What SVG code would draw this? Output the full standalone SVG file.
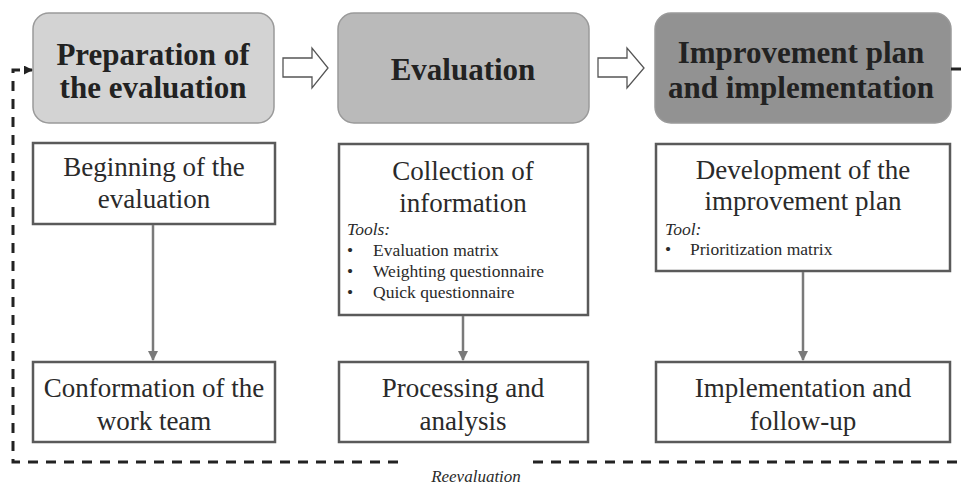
<svg xmlns="http://www.w3.org/2000/svg" width="964" height="488" viewBox="0 0 964 488">
<defs>
<marker id="ah" viewBox="0 0 10 10" refX="9" refY="5" markerWidth="4" markerHeight="4" orient="auto" markerUnits="strokeWidth">
<path d="M0,0 L10,5 L0,10 z" fill="#7a7a7a"/>
</marker>
<marker id="dh" viewBox="0 0 10 10" refX="9" refY="5" markerWidth="3" markerHeight="3" orient="auto" markerUnits="strokeWidth">
<path d="M0,0 L10,5 L0,10 z" fill="#222"/>
</marker>
</defs>
<style>
.hdr{stroke:#9a9a9a;stroke-width:1.5}
.ht{font-family:"Liberation Serif",serif;font-weight:bold;font-size:31px;fill:#222;text-anchor:middle}
.box{fill:#fff;stroke:#5a5a5a;stroke-width:2.5}
.bt{font-family:"Liberation Serif",serif;font-size:27px;fill:#2a2a2a;text-anchor:middle}
.st{font-family:"Liberation Serif",serif;font-size:17.5px;fill:#2a2a2a}
.it{font-style:italic}
.con{stroke:#7a7a7a;stroke-width:2.5;fill:none}
.dash{stroke:#222;stroke-width:3;fill:none;stroke-dasharray:10,8}
.ha{fill:#fff;stroke:#555;stroke-width:1.3}
</style>
<rect width="964" height="488" fill="#fff"/>

<g id="prep">
<rect class="hdr" x="33" y="13" width="241" height="110" rx="16" fill="#d3d3d3"/>
<text class="ht" x="153" y="65">Preparation of</text>
<text class="ht" x="153" y="98">the evaluation</text>
</g>
<g id="eval">
<rect class="hdr" x="338" y="13" width="251" height="110" rx="16" fill="#bababa"/>
<text class="ht" x="463" y="80">Evaluation</text>
</g>
<g id="impl">
<rect class="hdr" x="655" y="13" width="296" height="110" rx="16" fill="#929292"/>
<text class="ht" x="801" y="63">Improvement plan</text>
<text class="ht" x="801" y="98">and implementation</text>
</g>

<g id="arrow1"><path class="ha" d="M283,58 H312 V48 L328,68 L312,88 V77 H283 Z"/></g>
<g id="arrow2"><path class="ha" d="M598,58 H627 V48 L644,68 L627,88 V77 H598 Z"/></g>

<g id="beginning">
<rect class="box" x="33" y="143" width="242" height="81"/>
<text class="bt" x="154" y="176">Beginning of the</text>
<text class="bt" x="154" y="208">evaluation</text>
</g>
<g id="collection">
<rect class="box" x="339" y="144" width="249" height="171"/>
<text class="bt" x="463" y="180">Collection of</text>
<text class="bt" x="463" y="212">information</text>
<text class="st it" x="347" y="235">Tools:</text>
<text class="st" x="347" y="256">•</text><text class="st" x="373" y="256">Evaluation matrix</text>
<text class="st" x="347" y="277">•</text><text class="st" x="373" y="277">Weighting questionnaire</text>
<text class="st" x="347" y="298">•</text><text class="st" x="373" y="298">Quick questionnaire</text>
</g>
<g id="development">
<rect class="box" x="656" y="144" width="294" height="127"/>
<text class="bt" x="803" y="179">Development of the</text>
<text class="bt" x="803" y="210">improvement plan</text>
<text class="st it" x="665" y="235">Tool:</text>
<text class="st" x="665" y="255">•</text><text class="st" x="690" y="255">Prioritization matrix</text>
</g>

<g id="conformation">
<rect class="box" x="33" y="362" width="242" height="80"/>
<text class="bt" x="154" y="397">Conformation of the</text>
<text class="bt" x="154" y="430">work team</text>
</g>
<g id="processing">
<rect class="box" x="339" y="362" width="249" height="80"/>
<text class="bt" x="463" y="397">Processing and</text>
<text class="bt" x="463" y="430">analysis</text>
</g>
<g id="implementation">
<rect class="box" x="656" y="362" width="294" height="80"/>
<text class="bt" x="803" y="397">Implementation and</text>
<text class="bt" x="803" y="430">follow-up</text>
</g>

<g id="connectors">
<line class="con" x1="153" y1="225" x2="153" y2="360" marker-end="url(#ah)"/>
<line class="con" x1="463" y1="316" x2="463" y2="360" marker-end="url(#ah)"/>
<line class="con" x1="803" y1="272" x2="803" y2="360" marker-end="url(#ah)"/>
<path class="dash" d="M951,69 H964"/>
<path class="dash" d="M398,462 H13 V70 H32" marker-end="url(#dh)"/>
<path class="dash" d="M533,462 H960"/>
</g>
<text x="476" y="482" font-family="Liberation Serif, serif" font-size="17" font-style="italic" fill="#2a2a2a" text-anchor="middle">Reevaluation</text>
</svg>
